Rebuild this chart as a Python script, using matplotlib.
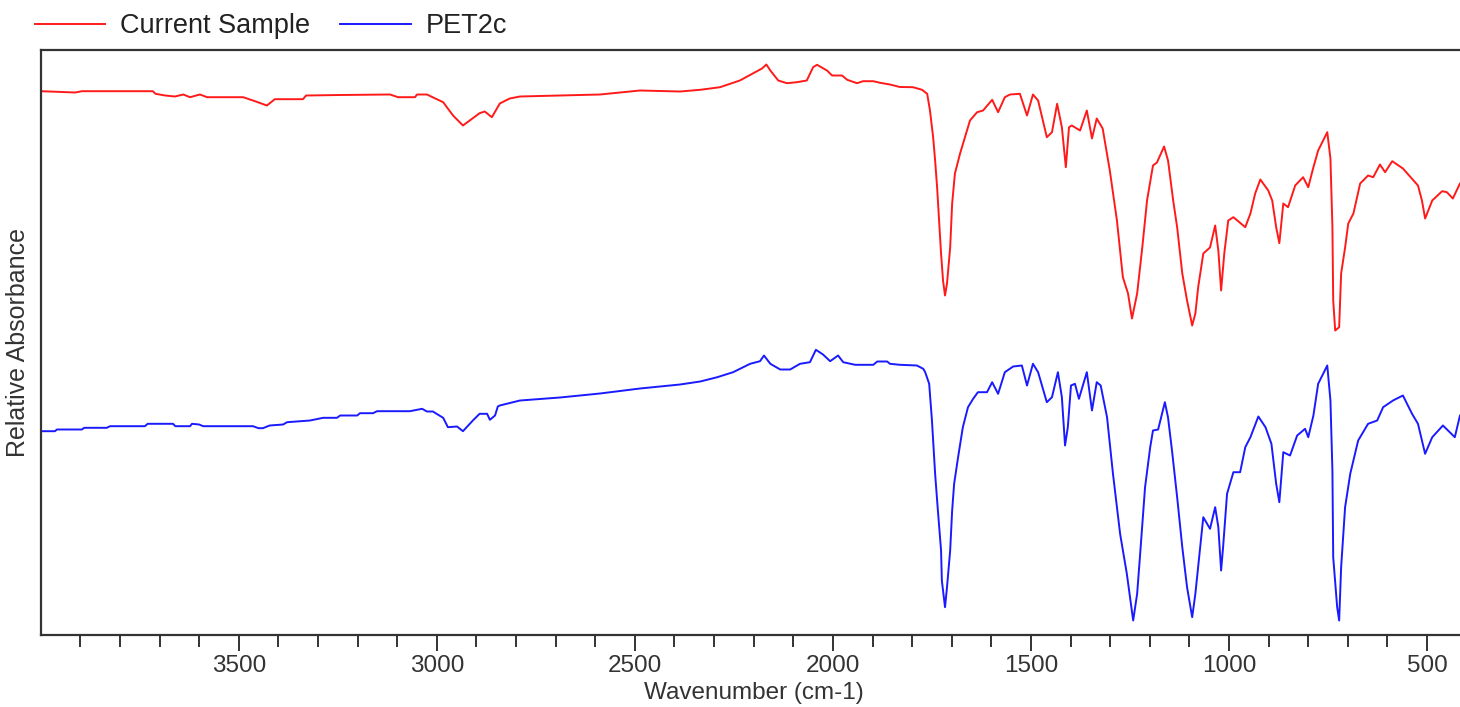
import matplotlib
matplotlib.use('Agg')
import matplotlib.pyplot as plt
from matplotlib.ticker import FixedLocator
import numpy as np

# spectra (wavenumber cm-1, relative absorbance, arbitrary units)
sample_wn = [3999, 3913, 3896, 3717, 3710, 3686, 3661, 3640, 3623, 3598, 3580, 3489,
             3464, 3429, 3409, 3338, 3330, 3244, 3118, 3098, 3055, 3050, 3025, 2984,
             2959, 2934, 2917, 2892, 2879, 2861, 2841, 2816, 2790, 2689, 2588, 2487,
             2386, 2335, 2285, 2235, 2202, 2179, 2168, 2158, 2138, 2116, 2091, 2066,
             2050, 2040, 2015, 2002, 1977, 1964, 1939, 1924, 1898, 1881, 1856, 1831,
             1798, 1775, 1762, 1755, 1747, 1742, 1737, 1732, 1727, 1722, 1717, 1712,
             1704, 1699, 1692, 1679, 1667, 1654, 1636, 1621, 1598, 1583, 1566, 1553,
             1528, 1510, 1495, 1482, 1460, 1447, 1434, 1422, 1412, 1404, 1397, 1376,
             1359, 1346, 1334, 1319, 1301, 1283, 1268, 1255, 1245, 1232, 1219, 1207,
             1192, 1182, 1164, 1154, 1141, 1131, 1118, 1106, 1093, 1085, 1078, 1065,
             1048, 1035, 1027, 1020, 1012, 1002, 989, 959, 946, 934, 921, 901,
             891, 881, 873, 863, 851, 833, 813, 800, 787, 775, 752, 744,
             739, 737, 732, 722, 717, 707, 699, 686, 669, 649, 636, 619,
             606, 588, 561, 523, 513, 505, 487, 462, 450, 435, 417, 405]
sample_abs = [5.433, 5.42, 5.433, 5.433, 5.407, 5.39, 5.38, 5.40, 5.373, 5.40, 5.373, 5.373,
              5.34, 5.29, 5.353, 5.353, 5.39, 5.395, 5.40, 5.373, 5.373, 5.40, 5.40, 5.323,
              5.19, 5.09, 5.14, 5.213, 5.23, 5.173, 5.31, 5.36, 5.38, 5.39, 5.40, 5.44,
              5.43, 5.447, 5.473, 5.54, 5.61, 5.66, 5.70, 5.64, 5.54, 5.513, 5.523, 5.54,
              5.673, 5.697, 5.64, 5.59, 5.59, 5.547, 5.513, 5.533, 5.533, 5.517, 5.50, 5.475,
              5.473, 5.447, 5.407, 5.24, 4.973, 4.74, 4.473, 4.14, 3.81, 3.54, 3.39, 3.51,
              3.87, 4.31, 4.61, 4.81, 4.97, 5.14, 5.223, 5.24, 5.347, 5.223, 5.373, 5.40,
              5.407, 5.19, 5.40, 5.34, 4.973, 5.023, 5.307, 5.073, 4.673, 5.073, 5.09, 5.04,
              5.24, 4.96, 5.16, 5.06, 4.64, 4.14, 3.573, 3.41, 3.16, 3.41, 3.87, 4.34,
              4.69, 4.72, 4.88, 4.74, 4.34, 4.073, 3.61, 3.34, 3.09, 3.21, 3.47, 3.81,
              3.87, 4.09, 3.84, 3.44, 3.81, 4.14, 4.173, 4.073, 4.21, 4.41, 4.55, 4.44,
              4.34, 4.073, 3.913, 4.31, 4.273, 4.49, 4.573, 4.473, 4.673, 4.84, 5.023, 4.76,
              4.073, 3.34, 3.04, 3.073, 3.61, 3.87, 4.11, 4.21, 4.51, 4.59, 4.573, 4.70,
              4.623, 4.733, 4.66, 4.49, 4.34, 4.16, 4.34, 4.433, 4.423, 4.36, 4.51, 4.55]

ref_wn = [3999, 3964, 3959, 3896, 3890, 3833, 3825, 3737, 3730, 3666, 3660, 3623,
          3618, 3600, 3590, 3464, 3450, 3439, 3422, 3388, 3378, 3320, 3287, 3252,
          3244, 3201, 3194, 3161, 3151, 3068, 3037, 3025, 3010, 2984, 2972, 2949,
          2934, 2909, 2892, 2873, 2866, 2853, 2846, 2841, 2790, 2689, 2588, 2487,
          2386, 2335, 2292, 2252, 2209, 2184, 2174, 2158, 2133, 2108, 2083, 2058,
          2043, 2025, 2007, 1987, 1974, 1944, 1898, 1888, 1863, 1856, 1831, 1788,
          1772, 1767, 1760, 1757, 1750, 1742, 1735, 1727, 1725, 1717, 1712, 1704,
          1699, 1694, 1684, 1672, 1659, 1646, 1634, 1611, 1598, 1583, 1566, 1545,
          1523, 1510, 1495, 1482, 1460, 1447, 1432, 1422, 1414, 1407, 1399, 1389,
          1379, 1359, 1346, 1334, 1324, 1308, 1293, 1275, 1258, 1242, 1232, 1225,
          1212, 1199, 1192, 1179, 1162, 1154, 1144, 1131, 1118, 1106, 1093, 1085,
          1078, 1065, 1048, 1035, 1027, 1020, 1015, 1005, 989, 972, 959, 946,
          926, 908, 893, 881, 873, 863, 846, 828, 808, 800, 787, 775,
          752, 744, 739, 737, 727, 722, 717, 707, 694, 674, 649, 626,
          611, 586, 561, 538, 523, 513, 505, 487, 460, 430, 417, 405]
ref_abs = [2.033, 2.033, 2.05, 2.05, 2.067, 2.067, 2.083, 2.083, 2.107, 2.107, 2.083, 2.083,
           2.107, 2.10, 2.083, 2.083, 2.063, 2.063, 2.09, 2.10, 2.123, 2.14, 2.167, 2.167,
           2.19, 2.19, 2.213, 2.213, 2.233, 2.233, 2.257, 2.23, 2.23, 2.167, 2.073, 2.08,
           2.033, 2.14, 2.207, 2.207, 2.147, 2.19, 2.28, 2.29, 2.34, 2.37, 2.41, 2.46,
           2.50, 2.53, 2.573, 2.623, 2.707, 2.733, 2.79, 2.707, 2.65, 2.65, 2.707, 2.723,
           2.847, 2.80, 2.733, 2.79, 2.723, 2.697, 2.697, 2.73, 2.73, 2.707, 2.697, 2.69,
           2.657, 2.623, 2.54, 2.507, 2.14, 1.607, 1.24, 0.84, 0.54, 0.273, 0.473, 0.84,
           1.24, 1.507, 1.773, 2.073, 2.273, 2.357, 2.423, 2.423, 2.523, 2.407, 2.623, 2.68,
           2.69, 2.49, 2.707, 2.623, 2.323, 2.373, 2.623, 2.373, 1.89, 2.073, 2.49, 2.507,
           2.357, 2.623, 2.24, 2.523, 2.49, 2.173, 1.607, 1.007, 0.607, 0.14, 0.407, 0.773,
           1.473, 1.873, 2.04, 2.05, 2.323, 2.17, 1.84, 1.373, 0.873, 0.473, 0.173, 0.407,
           0.673, 1.173, 1.057, 1.273, 1.073, 0.64, 0.873, 1.407, 1.623, 1.623, 1.873, 1.973,
           2.18, 2.073, 1.907, 1.507, 1.323, 1.823, 1.79, 1.99, 2.057, 1.973, 2.19, 2.507,
           2.69, 2.34, 1.64, 0.773, 0.273, 0.14, 0.673, 1.273, 1.607, 1.94, 2.107, 2.14,
           2.273, 2.34, 2.39, 2.207, 2.107, 1.94, 1.807, 1.973, 2.09, 1.973, 2.19, 2.24]

labels = ['Current Sample', 'PET2c']
colors = ['#ff1a1a', '#1a1aff']

major_ticks = [3500, 3000, 2500, 2000, 1500, 1000, 500]
minor_ticks = list(range(3900, 399, -100))

plt.rcParams['font.family'] = ['Liberation Sans', 'DejaVu Sans']

fig = plt.figure(figsize=(14.6, 7.07), dpi=100)
# axes runs slightly past the right edge of the picture, as in the reference
ax = fig.add_axes([40.7 / 1460, 72.5 / 707, 1426 / 1460, 584.5 / 707])

ax.plot(sample_wn, sample_abs, color=colors[0], linewidth=1.4, label=labels[0])
ax.plot(ref_wn, ref_abs, color=colors[1], linewidth=1.4, label=labels[1])

ax.set_xlim(4000, 400)
ax.set_ylim(0, 5.845)

ax.xaxis.set_major_locator(FixedLocator(major_ticks))
ax.xaxis.set_minor_locator(FixedLocator(minor_ticks))
ax.tick_params(axis='x', which='major', length=11.5, width=1.4, color='#333333',
               labelsize=17.5, labelcolor='#333333', pad=3)
ax.tick_params(axis='x', which='minor', length=8.6, width=1.4, color='#333333')
ax.set_yticks([])

for s in ax.spines.values():
    s.set_linewidth(1.6)
    s.set_color('#333333')

ax.set_xlabel('Wavenumber (cm-1)', fontsize=17.5, color='#333333', labelpad=4)
ax.set_ylabel('Relative Absorbance', fontsize=18, color='#333333', labelpad=8)

fig.legend(loc='center left', bbox_to_anchor=(35 / 1460, 1 - 26 / 707), ncol=2,
           frameon=False, fontsize=19.5, handlelength=2.6, handletextpad=0.55,
           columnspacing=1.1, borderpad=0, borderaxespad=0, labelcolor='#222222')

fig.savefig('out.png', dpi=100)
